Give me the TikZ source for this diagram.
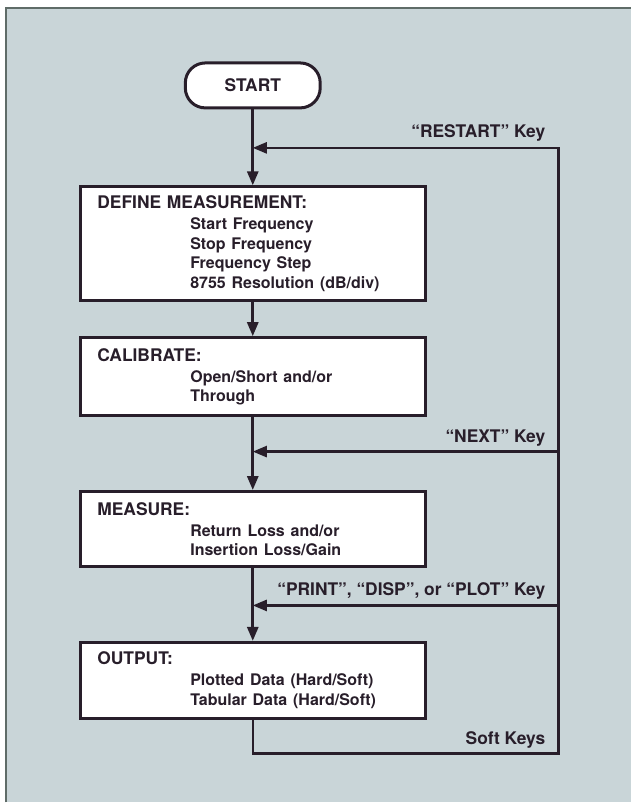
\documentclass[tikz,border=0pt]{standalone}
\usepackage{fontspec}
\setmainfont{TeX Gyre Heros}
\usepackage{tikz}
\usetikzlibrary{
  arrows.meta,%
  positioning
}
\definecolor{panelgray}{RGB}{201,213,216}
\definecolor{panelrule}{RGB}{95,108,104}
\definecolor{inkdark}{RGB}{40,30,42}
\tikzset{>={Triangle[length=14pt,width=11pt]}}
\tikzset{font=\fontsize{17.4}{19.5}\selectfont\bfseries}
\tikzset{stepbox/.style={draw=inkdark, line width=3pt, fill=white,
    text=inkdark, align=left, text width=311pt, inner xsep=17pt,
    inner ysep=0pt, minimum width=345pt}}
\tikzset{startbox/.style={draw=inkdark, line width=3pt, fill=white,
    rounded corners=20pt, minimum width=135pt, minimum height=45pt,
    text=inkdark}}
\tikzset{keylabel/.style={text=inkdark, anchor=base east, inner sep=0pt}}
\tikzset{flow/.style={draw=inkdark, line width=2.8pt, ->}}
\tikzset{loopline/.style={draw=inkdark, line width=2.4pt}}
\newcommand{\itm}[1]{\hspace*{93pt}{\fontsize{16}{19.5}\selectfont #1}}

\begin{document}
\begin{tikzpicture}[x=1pt,y=-1pt]
        \fill[white] (0,0) rectangle (632,803); %
        \fill[panelgray] (6,8) rectangle (632,803); %
        \draw[panelrule, line width=1.5pt] (6,803) -- (6,8) -- (632,8); %
        \useasboundingbox (0,0) rectangle (632,803); %
        % the steps
        \node[startbox] (start) at (253,85.5) {START}; %
        \node[stepbox, minimum height=114pt] (define) at (253,244)
        {DEFINE MEASUREMENT:\\[1.5pt] \itm{Start Frequency}\\
          \itm{Stop Frequency}\\ \itm{Frequency Step}\\
          \itm{8755 Resolution (dB/div)}}; %
        \node[stepbox, minimum height=78pt] (calibrate) at (253,377)
        {CALIBRATE:\\[1.5pt] \itm{Open/Short and/or}\\ \itm{Through}}; %
        \node[stepbox, minimum height=75pt] (measure) at (253,529.5)
        {MEASURE:\\[1.5pt] \itm{Return Loss and/or}\\
          \itm{Insertion Loss/Gain}}; %
        \node[stepbox, minimum height=76pt] (output) at (253,681)
        {OUTPUT:\\[1.5pt] \itm{Plotted Data (Hard/Soft)}\\
          \itm{Tabular Data (Hard/Soft)}}; %
        \draw[flow] (start) -- (define); %
        \draw[flow] (define) -- (calibrate); %
        \draw[flow] (calibrate) -- (measure); %
        \draw[flow] (measure) -- (output); %
        % soft key loop on the right
        \coordinate (softcorner) at (559,754); %
        \coordinate (restartcorner) at (559,148); %
        \coordinate (nextcorner) at (559,452); %
        \coordinate (printcorner) at (559,606); %
        \draw[loopline, ->] (output.south) |- (softcorner) --
        (restartcorner) -- (start.south |- restartcorner); %
        \draw[loopline, ->] (nextcorner) -- (start.south |- nextcorner); %
        \draw[loopline, ->] (printcorner) -- (start.south |- printcorner); %
        \node[keylabel] (restartkey) at (546,138) {“RESTART” Key}; %
        \node[keylabel] (nextkey) at (546,443) {“NEXT” Key}; %
        \node[keylabel] (printkey) at (546,596) {“PRINT”, “DISP”, or “PLOT” Key}; %
        \node[keylabel] (softkey) at (546,745) {Soft Keys}; %
      \end{tikzpicture}
\end{document}
